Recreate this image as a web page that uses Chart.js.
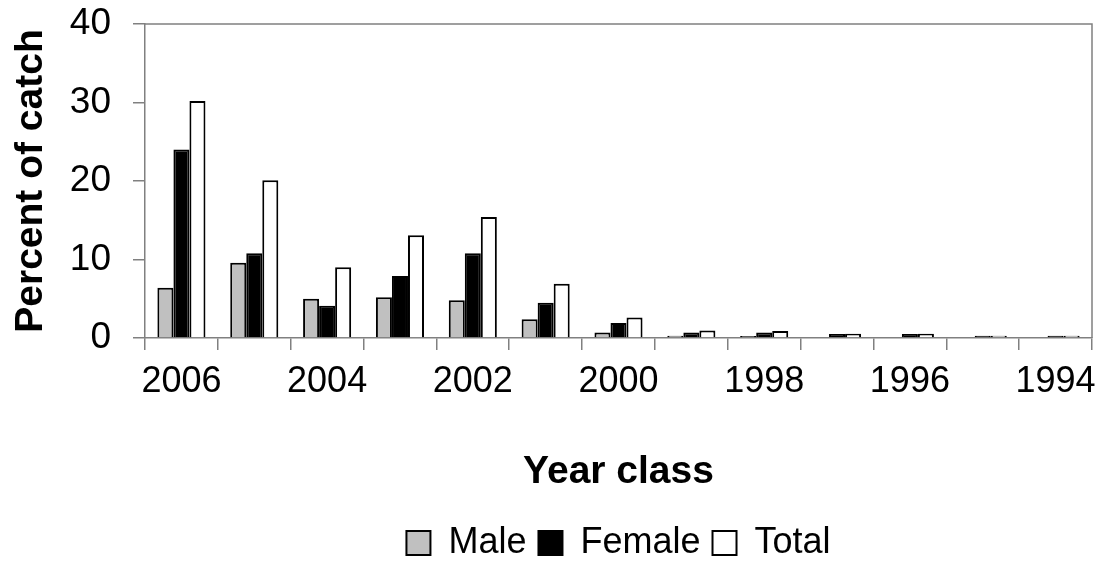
<!DOCTYPE html>
<html>
<head>
<meta charset="utf-8">
<script src="https://cdn.jsdelivr.net/npm/chart.js@4/dist/chart.umd.min.js"></script>
<style>
  html, body { margin: 0; padding: 0; background: #fff; }
  canvas { display: block; }
</style>
</head>
<body>
<canvas id="chart" width="1102" height="572"></canvas>
<script>
// Year classes, youngest first, as on the x axis
const yearClasses = ['2006', '2005', '2004', '2003', '2002', '2001', '2000', '1999', '1998', '1997', '1996', '1995', '1994'];
const maleValues = [6.4, 9.6, 5.0, 5.2, 4.8, 2.4, 0.7, 0.3, 0.25, 0, 0, 0, 0];
const femaleValues = [24.0, 10.8, 4.1, 7.9, 10.8, 4.5, 1.9, 0.7, 0.7, 0.5, 0.5, 0.3, 0.3];
const totalValues = [30.2, 20.1, 9.0, 13.1, 15.4, 6.9, 2.6, 0.95, 0.9, 0.55, 0.55, 0.3, 0.3];
const yTicks = [0, 10, 20, 30, 40];

const FONT = "'Liberation Sans', Arial, sans-serif";
const AXIS_GREY = '#808080';

// plot frame: Excel-style box round the plot area
const frameBox = {
	id: 'frameBox',
	afterDraw( chart ) {
		const { ctx, chartArea: a } = chart;
		ctx.save();
		ctx.strokeStyle = AXIS_GREY;
		ctx.lineWidth = 1.5;
		ctx.beginPath();
		ctx.moveTo( a.left, a.top );
		ctx.lineTo( a.right, a.top );
		ctx.lineTo( a.right, a.bottom );
		ctx.stroke();
		ctx.restore();
	},
};

new Chart( document.getElementById( 'chart' ), {
	type: 'bar',
	data: {
		labels: yearClasses,
		datasets: [
			{ label: 'Male', data: maleValues, backgroundColor: '#c0c0c0', borderColor: '#000', borderWidth: 2 },
			{ label: 'Female', data: femaleValues, backgroundColor: '#000000', borderColor: '#000', borderWidth: 2 },
			{ label: 'Total', data: totalValues, backgroundColor: '#ffffff', borderColor: '#000', borderWidth: 2 },
		],
	},
	options: {
		responsive: false,
		animation: false,
		devicePixelRatio: 1,
		layout: { padding: { top: 24, right: 10, left: 0, bottom: 1 } },
		datasets: {
			bar: { categoryPercentage: 0.66, barPercentage: 1.0 },
		},
		plugins: {
			legend: {
				position: 'bottom',
				fullSize: false,
				labels: {
					font: { family: FONT, size: 36 },
					color: '#000',
					boxWidth: 24,
					boxHeight: 24,
					padding: 12,
				},
			},
			tooltip: { enabled: false },
		},
		scales: {
			x: {
				afterFit: ( scale ) => {
					scale.paddingLeft = 0;
					scale.paddingRight = 0;
				},
				grid: { drawOnChartArea: false, tickLength: 12, color: AXIS_GREY, lineWidth: 1.5, offset: true },
				border: { color: AXIS_GREY, width: 1.5 },
				ticks: {
					autoSkip: false,
					maxRotation: 0,
					padding: 10,
					color: '#000',
					font: { family: FONT, size: 36 },
					callback: ( v, i ) => ( i % 2 ? '' : yearClasses[ i ] ),
				},
				title: {
					display: true,
					text: 'Year class',
					color: '#000',
					font: { family: FONT, size: 39, weight: 'bold' },
					padding: { top: 36, bottom: 17 },
				},
			},
			y: {
				min: 0,
				max: 40,
				afterBuildTicks: ( scale ) => {
					scale.ticks = yTicks.map( ( value ) => ( { value } ) );
				},
				afterFit: ( scale ) => {
					scale.width = 145;
					scale.paddingTop = 0;
					scale.paddingBottom = 0;
				},
				grid: { drawOnChartArea: false, tickLength: 12, color: AXIS_GREY, lineWidth: 1.5 },
				border: { color: AXIS_GREY, width: 1.5 },
				ticks: {
					padding: 22,
					color: '#000',
					font: { family: FONT, size: 37 },
				},
				title: {
					display: true,
					text: 'Percent of catch',
					color: '#000',
					font: { family: FONT, size: 39, weight: 'bold' },
					padding: { top: 8, bottom: 0 },
				},
			},
		},
	},
	plugins: [ frameBox ],
} );
</script>
</body>
</html>
